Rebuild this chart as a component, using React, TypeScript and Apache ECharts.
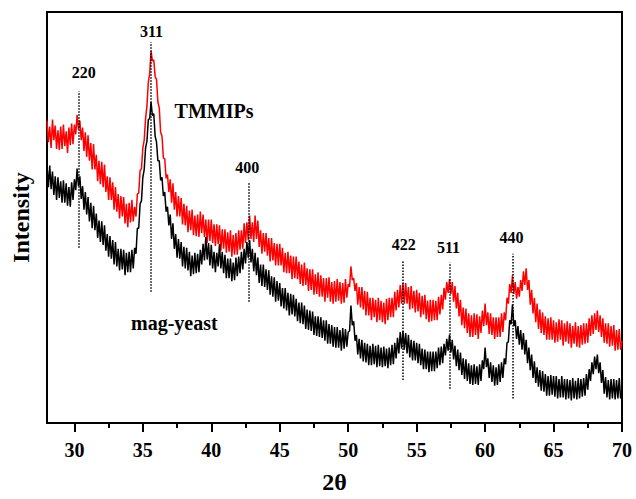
import React, { useEffect, useRef } from "react";
import * as echarts from "echarts";

// Sampling grid of the diffractograms (2θ, degrees)
const TWO_THETA_START = 28;
const TWO_THETA_STEP = 0.1;

// Intensity (a.u.), one value per 0.1° from 28° to 70°
// (each row covers one degree)
const TMMIPS = [
  309, 287, 303, 281, 310, 289, 304, 280, 299, 279,
  303, 280, 305, 283, 298, 276, 302, 284, 306, 285,
  305, 295, 315, 300, 309, 289, 302, 278, 297, 272,
  294, 268, 286, 259, 285, 259, 274, 247, 268, 244,
  267, 241, 264, 236, 252, 228, 251, 228, 246, 218,
  241, 216, 234, 209, 232, 211, 231, 204, 224, 200,
  225, 205, 228, 206, 221, 211, 234, 235, 258, 260,
  281, 289, 311, 324, 348, 357, 380, 370, 371, 354,
  351, 328, 322, 297, 293, 271, 270, 250, 254, 236,
  249, 225, 245, 218, 236, 211, 232, 211, 230, 203,
  224, 202, 222, 195, 217, 197, 218, 192, 212, 191,
  213, 190, 216, 194, 213, 190, 208, 184, 208, 186,
  208, 184, 203, 181, 203, 183, 202, 176, 198, 178,
  198, 174, 195, 175, 197, 170, 192, 172, 194, 172,
  197, 177, 197, 178, 204, 184, 205, 187, 212, 188,
  205, 185, 212, 188, 207, 180, 197, 173, 194, 175,
  194, 171, 189, 165, 189, 166, 184, 161, 183, 161,
  183, 161, 179, 154, 174, 153, 175, 153, 171, 147,
  170, 148, 170, 147, 165, 142, 162, 140, 164, 141,
  158, 135, 157, 136, 157, 131, 152, 132, 154, 129,
  151, 129, 148, 124, 148, 128, 149, 124, 144, 122,
  145, 124, 147, 125, 144, 122, 143, 123, 147, 128,
  142, 139, 160, 146, 148, 135, 143, 121, 139, 118,
  139, 116, 135, 110, 134, 110, 128, 105, 128, 108,
  126, 103, 128, 105, 125, 103, 123, 101, 127, 105,
  128, 108, 128, 108, 134, 115, 136, 118, 141, 122,
  143, 122, 143, 122, 139, 116, 140, 117, 135, 113,
  136, 114, 133, 108, 130, 111, 131, 106, 125, 103,
  126, 104, 126, 105, 125, 105, 129, 111, 131, 116,
  138, 126, 144, 133, 147, 132, 144, 124, 140, 117,
  133, 109, 126, 100, 118, 97, 117, 92, 112, 88,
  110, 88, 112, 90, 111, 86, 109, 92, 115, 99,
  122, 100, 113, 91, 112, 90, 108, 86, 108, 88,
  108, 88, 112, 93, 113, 105, 128, 122, 142, 133,
  151, 132, 144, 127, 139, 129, 146, 135, 155, 141,
  158, 136, 146, 121, 136, 112, 128, 103, 122, 96,
  116, 92, 113, 90, 109, 85, 107, 85, 108, 85,
  105, 82, 103, 83, 106, 85, 105, 79, 102, 83,
  104, 81, 102, 77, 99, 81, 103, 78, 99, 77,
  100, 80, 102, 81, 102, 82, 107, 89, 110, 91,
  112, 95, 115, 93, 110, 88, 107, 82, 102, 81,
  102, 78, 99, 79, 100, 74, 95, 75, 96, 75,
  84,
];

const MAG_YEAST = [
  263, 241, 263, 239, 257, 233, 252, 228, 251, 230,
  247, 225, 248, 225, 245, 222, 241, 221, 246, 228,
  249, 238, 260, 242, 252, 229, 242, 218, 236, 213,
  231, 206, 225, 199, 222, 197, 214, 189, 207, 185,
  206, 182, 202, 176, 193, 170, 191, 168, 187, 162,
  185, 160, 178, 156, 178, 157, 177, 151, 174, 154,
  175, 154, 177, 158, 179, 173, 199, 199, 224, 227,
  251, 259, 281, 288, 310, 311, 328, 314, 316, 293,
  287, 268, 268, 248, 251, 232, 236, 216, 221, 202,
  213, 188, 204, 178, 193, 169, 188, 168, 185, 160,
  180, 158, 179, 156, 175, 150, 171, 152, 174, 153,
  173, 154, 177, 162, 183, 166, 190, 167, 184, 161,
  182, 158, 175, 154, 174, 160, 183, 158, 175, 153,
  172, 148, 168, 148, 168, 145, 164, 146, 169, 150,
  170, 153, 175, 157, 178, 163, 185, 169, 187, 164,
  178, 155, 174, 151, 169, 143, 162, 140, 162, 139,
  157, 136, 156, 131, 150, 129, 149, 124, 145, 125,
  143, 119, 138, 117, 138, 115, 133, 110, 132, 111,
  131, 109, 127, 104, 123, 102, 123, 101, 120, 96,
  116, 95, 115, 94, 114, 90, 109, 89, 109, 88,
  108, 87, 105, 84, 105, 81, 101, 81, 100, 78,
  98, 77, 98, 77, 95, 74, 97, 76, 96, 78,
  93, 94, 120, 100, 104, 84, 90, 70, 86, 66,
  85, 63, 82, 62, 81, 59, 79, 59, 81, 60,
  79, 57, 80, 58, 77, 57, 78, 58, 76, 56,
  77, 59, 80, 60, 82, 66, 87, 71, 93, 76,
  94, 75, 92, 71, 90, 67, 85, 64, 84, 64,
  82, 61, 81, 59, 76, 55, 75, 55, 73, 52,
  73, 53, 73, 53, 73, 56, 77, 59, 78, 61,
  81, 69, 86, 74, 90, 72, 85, 65, 79, 58,
  75, 54, 72, 49, 66, 45, 65, 43, 61, 40,
  59, 39, 60, 40, 58, 39, 60, 43, 64, 55,
  77, 57, 66, 46, 62, 42, 59, 38, 57, 39,
  60, 42, 62, 46, 66, 60, 82, 83, 105, 101,
  121, 99, 105, 86, 99, 80, 95, 75, 92, 70,
  85, 61, 77, 54, 70, 46, 63, 41, 57, 37,
  54, 33, 53, 32, 50, 28, 48, 28, 49, 29,
  48, 27, 48, 25, 45, 26, 48, 26, 45, 24,
  45, 25, 44, 23, 46, 25, 43, 24, 46, 25,
  45, 27, 46, 28, 50, 34, 55, 43, 62, 50,
  68, 55, 70, 51, 62, 41, 54, 30, 47, 26,
  44, 24, 45, 25, 45, 24, 44, 25, 46, 25,
  33,
];

const SERIES_NAMES = ["TMMIPs", "mag-yeast"];
const SERIES_COLORS = ["#ff0000", "#000000"];
const SERIES_LABEL_X = [40.2, 37.3];
const SERIES_LABEL_Y = [319, 102];

// Reflections of the spinel lattice
const PEAK_HKL = ["220", "311", "400", "422", "511", "440"];
const PEAK_POS = [30.3, 35.6, 42.7, 54.0, 57.4, 62.0];
const PEAK_LINE_LOW = [179, 134, 124, 44, 35, 25];
const PEAK_LINE_HIGH = [339, 389, 245, 165, 164, 173];
const PEAK_LABEL_X = [30.68, 35.63, 42.62, 54.06, 57.33, 61.93];
const PEAK_LABEL_Y = [358, 400, 261, 182, 179, 190];

const X_TICKS = [30, 35, 40, 45, 50, 55, 60, 65, 70];
const X_MINOR_TICKS = [32.5, 37.5, 42.5, 47.5, 52.5, 57.5, 62.5, 67.5];

const FONT = '"Liberation Serif", "Times New Roman", serif';

function toPairs(values: number[]) {
  return values.map((v, i) => [
    Math.round((TWO_THETA_START + i * TWO_THETA_STEP) * 10) / 10,
    v,
  ]);
}

export default function App() {
  const ref = useRef<HTMLDivElement>(null);

  useEffect(() => {
    document.body.style.margin = "0";
    if (!ref.current) return;
    const chart = echarts.init(ref.current, null, { renderer: "svg" });

    const peakLines = PEAK_POS.map((x, i) => [
      { coord: [x, PEAK_LINE_LOW[i]] },
      { coord: [x, PEAK_LINE_HIGH[i]] },
    ]);

    const textItems = [
      ...PEAK_HKL.map((t, i) => ({
        name: t,
        value: [PEAK_LABEL_X[i], PEAK_LABEL_Y[i]],
        label: { fontSize: 16 },
      })),
      ...SERIES_NAMES.map((t, i) => ({
        name: t,
        value: [SERIES_LABEL_X[i], SERIES_LABEL_Y[i]],
        label: { fontSize: 20 },
      })),
    ];

    chart.setOption({
      animation: false,
      backgroundColor: "#ffffff",
      grid: {
        left: 47,
        right: 14,
        top: 12,
        bottom: 67,
        show: true,
        borderColor: "#000",
        borderWidth: 2,
        backgroundColor: "transparent",
      },
      xAxis: [
        {
          type: "value",
          min: 28,
          max: 70,
          name: "2θ",
          nameLocation: "middle",
          nameGap: 47,
          nameTextStyle: {
            fontFamily: FONT,
            fontWeight: "bold",
            fontSize: 24,
            color: "#000",
          },
          axisLine: { show: true, lineStyle: { color: "#000", width: 2 } },
          axisTick: {
            show: true,
            length: 9,
            lineStyle: { color: "#000", width: 2 },
            customValues: X_TICKS,
          },
          axisLabel: {
            show: true,
            customValues: X_TICKS,
            margin: 17,
            fontFamily: FONT,
            fontWeight: "bold",
            fontSize: 20,
            color: "#000",
          },
          splitLine: { show: false },
        },
        {
          type: "value",
          min: 28,
          max: 70,
          position: "bottom",
          axisLine: { show: false },
          axisTick: {
            show: true,
            length: 5,
            lineStyle: { color: "#000", width: 2 },
            customValues: X_MINOR_TICKS,
          },
          axisLabel: { show: false },
          splitLine: { show: false },
        },
      ],
      yAxis: {
        type: "value",
        min: 0,
        max: 420,
        name: "Intensity",
        nameLocation: "middle",
        nameGap: 14,
        nameTextStyle: {
          fontFamily: FONT,
          fontWeight: "bold",
          fontSize: 24,
          color: "#000",
        },
        axisLine: { show: true, lineStyle: { color: "#000", width: 2 } },
        axisTick: { show: false },
        axisLabel: { show: false },
        splitLine: { show: false },
      },
      series: [
        {
          name: SERIES_NAMES[0],
          type: "line",
          data: toPairs(TMMIPS),
          showSymbol: false,
          lineStyle: { color: SERIES_COLORS[0], width: 1.5 },
          itemStyle: { color: SERIES_COLORS[0] },
          z: 2,
        },
        {
          name: SERIES_NAMES[1],
          type: "line",
          data: toPairs(MAG_YEAST),
          showSymbol: false,
          lineStyle: { color: SERIES_COLORS[1], width: 1.5 },
          itemStyle: { color: SERIES_COLORS[1] },
          z: 3,
          markLine: {
            silent: true,
            symbol: ["none", "none"],
            label: { show: false },
            lineStyle: { color: "#000", type: "dotted", width: 1.5 },
            data: peakLines,
          },
        },
        {
          name: "labels",
          type: "scatter",
          data: textItems,
          symbolSize: 1,
          itemStyle: { color: "rgba(0,0,0,0)" },
          silent: true,
          z: 5,
          label: {
            show: true,
            position: "inside",
            formatter: (p: any) => p.name,
            fontFamily: FONT,
            fontWeight: "bold",
            color: "#000",
            textBorderWidth: 0,
            opacity: 1,
          },
        },
      ],
    });

    return () => chart.dispose();
  }, []);

  return <div ref={ref} style={{ width: 636, height: 499 }} />;
}
